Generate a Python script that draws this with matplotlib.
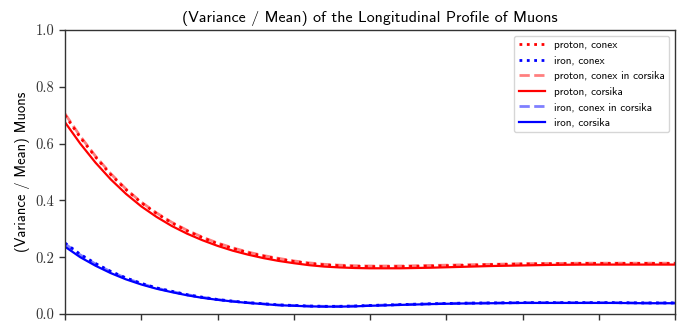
import matplotlib.pyplot as plt

# profondeur (g/cm^2) et rapport variance / moyenne des muons
x = [0, 50, 100, 150, 200, 250, 300, 350, 400, 450, 500, 550, 600, 650, 700, 750, 800, 850, 900, 950,
     1000, 1100, 1200, 1300, 1400, 1500, 1600, 1700, 1800, 1900, 2000]

proton_corsika = [0.675, 0.600, 0.533, 0.474, 0.423, 0.379, 0.342, 0.310, 0.283, 0.260, 0.240, 0.223, 0.209, 0.197, 0.187, 0.179, 0.172, 0.167, 0.164, 0.162,
                  0.161, 0.161, 0.163, 0.166, 0.169, 0.171, 0.173, 0.174, 0.174, 0.174, 0.174]
proton_conex = [0.700, 0.622, 0.553, 0.491, 0.438, 0.392, 0.354, 0.321, 0.293, 0.269, 0.248, 0.231, 0.216, 0.204, 0.194, 0.185, 0.178, 0.173, 0.170, 0.168,
                0.167, 0.167, 0.169, 0.171, 0.174, 0.176, 0.177, 0.178, 0.178, 0.178, 0.178]
proton_conex_corsika = [0.705, 0.626, 0.556, 0.494, 0.440, 0.394, 0.356, 0.323, 0.295, 0.271, 0.250, 0.233, 0.218, 0.206, 0.196, 0.187, 0.180, 0.175, 0.172, 0.170,
                        0.169, 0.169, 0.171, 0.173, 0.175, 0.177, 0.178, 0.179, 0.179, 0.179, 0.179]

iron_corsika = [0.237, 0.200, 0.170, 0.144, 0.122, 0.104, 0.089, 0.077, 0.066, 0.057, 0.050, 0.044, 0.039, 0.035, 0.031, 0.029, 0.027, 0.026, 0.026, 0.027,
                0.029, 0.032, 0.035, 0.037, 0.038, 0.039, 0.039, 0.039, 0.039, 0.038, 0.038]
iron_conex = [0.250, 0.210, 0.178, 0.150, 0.127, 0.108, 0.092, 0.080, 0.068, 0.059, 0.051, 0.045, 0.040, 0.036, 0.032, 0.030, 0.028, 0.027, 0.027, 0.028,
              0.030, 0.033, 0.036, 0.038, 0.039, 0.040, 0.040, 0.040, 0.040, 0.039, 0.039]
iron_conex_corsika = [0.247, 0.208, 0.176, 0.149, 0.126, 0.107, 0.091, 0.079, 0.068, 0.059, 0.051, 0.045, 0.040, 0.036, 0.032, 0.030, 0.028, 0.027, 0.027, 0.028,
                      0.030, 0.033, 0.036, 0.038, 0.039, 0.040, 0.040, 0.040, 0.040, 0.039, 0.039]

plt.rcParams['axes.edgecolor'] = '#333333'
plt.rcParams['xtick.color'] = '#333333'
plt.rcParams['ytick.color'] = '#333333'

fig = plt.figure(figsize=(6.93, 3.33), dpi=100)
ax = fig.add_axes([65 / 693, 19 / 333, 610 / 693, 284 / 333])

ax.plot(x, proton_conex, ':', color='red', lw=2, label='proton, conex')
ax.plot(x, iron_conex, ':', color='blue', lw=2, label='iron, conex')
ax.plot(x, proton_conex_corsika, '--', color='red', alpha=0.5, lw=2, label='proton, conex in corsika')
ax.plot(x, proton_corsika, '-', color='red', lw=1.6, label='proton, corsika')
ax.plot(x, iron_conex_corsika, '--', color='blue', alpha=0.5, lw=2, label='iron, conex in corsika')
ax.plot(x, iron_corsika, '-', color='blue', lw=1.6, label='iron, corsika')

ax.set_xlim(0, 2000)
ax.set_ylim(0, 1)
ax.set_xticks(range(0, 2001, 250))
ax.set_xticklabels([])
ax.set_yticks([0.0, 0.2, 0.4, 0.6, 0.8, 1.0])
ax.set_yticklabels(['0.0', '0.2', '0.4', '0.6', '0.8', '1.0'], family='cmr10', fontsize=10.5)
ax.tick_params(direction='out', length=4, width=1)
for s in ax.spines.values():
    s.set_linewidth(1)

ax.set_ylabel('(Variance / Mean) Muons', family='cmss10', fontsize=10.5)
ax.set_title('(Variance / Mean) of the Longitudinal Profile of Muons', family='cmss10', fontsize=11.5)

leg = ax.legend(loc='upper right', prop={'family': 'cmss10', 'size': 8}, handlelength=2.4)

fig.savefig('out.png', dpi=100)
